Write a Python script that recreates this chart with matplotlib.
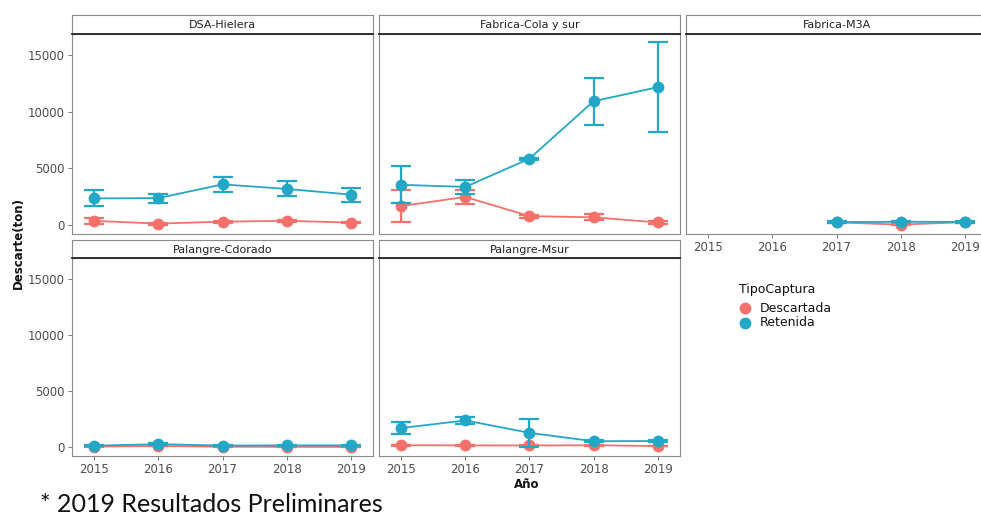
import matplotlib
matplotlib.use("Agg")
import matplotlib.pyplot as plt

# ---------------- data ----------------
years = [2015, 2016, 2017, 2018, 2019]
years_m3a = [2017, 2018, 2019]

panels = ["DSA-Hielera", "Fabrica-Cola y sur", "Fabrica-M3A",
          "Palangre-Cdorado", "Palangre-Msur"]

# DSA-Hielera
dsa_ret = [2350, 2380, 3590, 3190, 2690]
dsa_ret_err = [700, 400, 670, 670, 620]
dsa_desc = [360, 120, 290, 370, 210]
dsa_desc_err = [250, 80, 80, 80, 80]

# Fabrica-Cola y sur
cola_ret = [3550, 3370, 5870, 10950, 12190]
cola_ret_err = [1650, 620, 100, 2100, 3970]
cola_desc = [1680, 2480, 780, 680, 220]
cola_desc_err = [1380, 620, 120, 250, 100]

# Fabrica-M3A (2017-2019 only)
m3a_ret = [250, 280, 270]
m3a_ret_err = [60, 60, 60]
m3a_desc = [230, 30, 250]
m3a_desc_err = [40, 40, 40]

# Palangre-Cdorado
cdo_ret = [120, 260, 130, 150, 150]
cdo_ret_err = [60, 120, 60, 60, 60]
cdo_desc = [40, 90, 30, 20, 10]
cdo_desc_err = [30, 40, 20, 20, 10]

# Palangre-Msur
msur_ret = [1700, 2380, 1270, 520, 540]
msur_ret_err = [510, 310, 1250, 80, 60]
msur_desc = [160, 150, 140, 160, 90]
msur_desc_err = [60, 60, 60, 60, 40]

series = {
    "DSA-Hielera": (years, dsa_desc, dsa_desc_err, dsa_ret, dsa_ret_err),
    "Fabrica-Cola y sur": (years, cola_desc, cola_desc_err, cola_ret, cola_ret_err),
    "Fabrica-M3A": (years_m3a, m3a_desc, m3a_desc_err, m3a_ret, m3a_ret_err),
    "Palangre-Cdorado": (years, cdo_desc, cdo_desc_err, cdo_ret, cdo_ret_err),
    "Palangre-Msur": (years, msur_desc, msur_desc_err, msur_ret, msur_ret_err),
}

legend_title = "TipoCaptura"
legend_labels = ["Descartada", "Retenida"]
yticks = [0, 5000, 10000, 15000]
ytick_labels = ["0", "5000", "10000", "15000"]

# ---------------- style ----------------
RED = "#F4706A"
TEAL = "#22A7C6"
GRAY_TXT = "#4D4D4D"
W, H = 981, 519

plt.rcParams["font.family"] = ["DejaVu Sans"]
fig = plt.figure(figsize=(W / 100, H / 100), dpi=100)
fig.patch.set_facecolor("white")


def fbox(x0, y0, x1, y1):
    return [x0 / W, 1 - y1 / H, (x1 - x0) / W, (y1 - y0) / H]


col_x = [72, 379, 686]
col_w = 301
rows = [(15, 34, 234), (240, 258, 456)]  # strip top, panel top, panel bottom

layout = {
    "DSA-Hielera": (0, 0),
    "Fabrica-Cola y sur": (0, 1),
    "Fabrica-M3A": (0, 2),
    "Palangre-Cdorado": (1, 0),
    "Palangre-Msur": (1, 1),
}

for name in panels:
    r, c = layout[name]
    st, pt, pb = rows[r]
    x0 = col_x[c]
    x1 = x0 + col_w
    ax = fig.add_axes(fbox(x0, pt, x1, pb))
    sax = fig.add_axes(fbox(x0, st, x1, pt))

    # strip
    sax.set_xticks([])
    sax.set_yticks([])
    sax.set_facecolor("white")
    for s in ["top", "left", "right"]:
        sax.spines[s].set_color("#8a8a8a")
        sax.spines[s].set_linewidth(0.8)
    sax.spines["bottom"].set_color("#222222")
    sax.spines["bottom"].set_linewidth(1.3)
    sax.text(0.5, 0.45, name, ha="center", va="center", fontsize=8,
             color="#222222", transform=sax.transAxes)

    xs, dv, de, rv, re_ = series[name]
    for vals, errs, col, z in [(dv, de, RED, 3), (rv, re_, TEAL, 4)]:
        ax.errorbar(xs, vals, yerr=errs, fmt="none", ecolor=col, elinewidth=1.6,
                    capsize=7, capthick=1.6, zorder=z)
        ax.plot(xs, vals, color=col, lw=1.3, marker="o", markersize=8.5,
                markeredgewidth=0, zorder=z)

    ax.set_xlim(2014.65, 2019.35)
    ax.set_ylim(-800, 16900)
    for s in ax.spines.values():
        s.set_color("#8a8a8a")
        s.set_linewidth(0.8)
    ax.set_xticks(years)
    ax.set_yticks(yticks)
    show_x = (r == 1) or (c == 2)
    show_y = (c == 0)
    ax.tick_params(axis="both", length=3, width=0.6, color="#666666",
                   labelsize=8.5, labelcolor=GRAY_TXT, pad=2)
    if show_x:
        ax.set_xticklabels([str(y) for y in years])
    else:
        ax.tick_params(axis="x", length=0, labelbottom=False)
    if show_y:
        ax.set_yticklabels(ytick_labels)
    else:
        ax.tick_params(axis="y", length=0, labelleft=False)

# axis titles
fig.text(18 / W, 1 - 243 / H, "Descarte(ton)", rotation=90, ha="center", va="center",
         fontsize=8.5, fontweight="bold", color="#111111")
fig.text(527 / W, 1 - 484 / H, "Año", ha="center", va="center",
         fontsize=8.5, fontweight="bold", color="#111111")

# legend (drawn manually)
fig.text(739 / W, 1 - 289 / H, legend_title, ha="left", va="center",
         fontsize=9, color="#111111")
for i, (lab, col) in enumerate(zip(legend_labels, [RED, TEAL])):
    yy = 1 - (308 + 15 * i) / H
    fig.lines.append(plt.Line2D([745 / W], [yy], transform=fig.transFigure,
                                color=col, marker="o", markersize=8.5,
                                markeredgewidth=0, lw=0))
    fig.text(760 / W, yy, lab, ha="left", va="center", fontsize=9, color="#111111")

# footnote
fig.text(40 / W, 1 - 505 / H, "* 2019 Resultados Preliminares", ha="left", va="center",
         fontsize=18, family=["Lato", "DejaVu Sans"], color="#111111")

fig.savefig("out.png", dpi=100, facecolor="white")
